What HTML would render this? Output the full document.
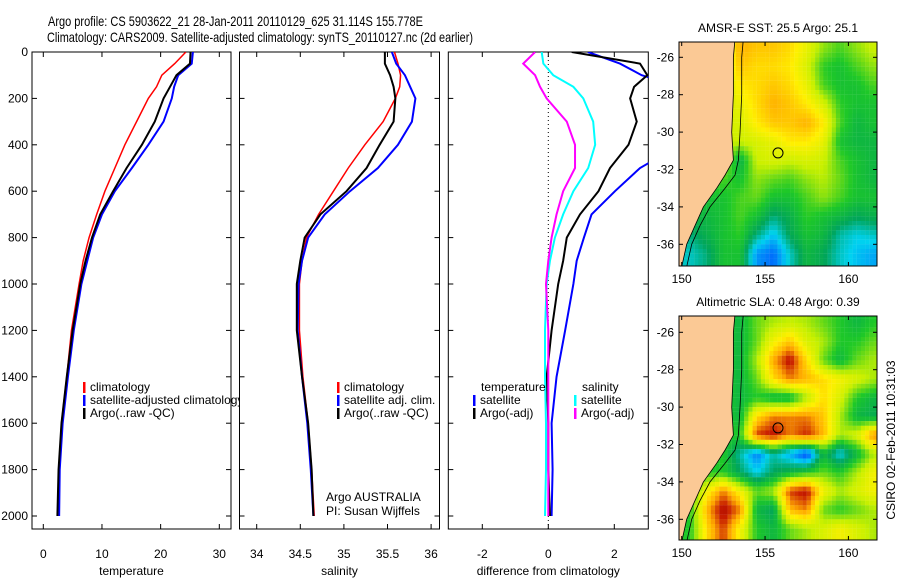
<!DOCTYPE html>
<html><head><meta charset="utf-8"><style>
body{margin:0;background:#fff}
svg{display:block;font-family:"Liberation Sans",sans-serif}
text{font-size:12px;fill:#000}
</style></head><body>
<svg id="c" width="900" height="580" viewBox="0 0 900 580">
<text x="48" y="26" textLength="375" lengthAdjust="spacingAndGlyphs" style="font-size:14px">Argo profile: CS 5903622_21 28-Jan-2011 20110129_625 31.114S 155.778E</text>
<text x="47" y="42" textLength="426" lengthAdjust="spacingAndGlyphs" style="font-size:14px">Climatology: CARS2009. Satellite-adjusted climatology: synTS_20110127.nc (2d earlier)</text>
<g id="g"></g>
</svg>
<script>
// ---- profile data ----
const depths = [0,50,100,150,200,300,400,500,600,700,800,900,1000,1200,1400,1600,1800,2000];
const tempClim = [24.3,22.4,20.2,19.3,17.9,15.9,13.9,12.2,10.5,9.1,7.8,6.8,6.1,4.8,4.0,3.1,2.7,2.6];
const tempSat  = [25.5,25.3,23.0,22.3,21.9,20.5,17.9,15.1,12.2,10.0,8.5,7.5,6.5,5.2,4.2,3.3,2.8,2.7];
const tempArgo = [25.1,25.0,22.7,21.6,20.5,19.0,16.8,14.2,11.9,9.7,8.3,7.2,6.3,5.0,4.0,3.1,2.6,2.4];
const salClim = [35.58,35.62,35.65,35.64,35.59,35.45,35.24,35.05,34.88,34.71,34.57,34.52,34.49,34.49,34.53,34.59,34.63,34.66];
const salSat  = [35.55,35.60,35.70,35.76,35.82,35.78,35.62,35.39,35.07,34.78,34.59,34.52,34.48,34.47,34.52,34.58,34.62,34.65];
const salArgo = [35.47,35.47,35.53,35.57,35.59,35.57,35.41,35.26,35.03,34.73,34.55,34.50,34.46,34.46,34.52,34.59,34.63,34.65];
const diffTempSat  = [1.2,2.17,2.83,4.0,4.0,4.6,4.0,2.78,2.02,1.31,1.08,0.86,0.76,0.51,0.25,0.10,0.13,0.10];
const diffTempArgo = [0.71,2.78,3.0,2.6,2.48,2.68,2.43,1.87,1.52,0.96,0.56,0.45,0.30,0.10,-0.05,0.0,0.0,0.05];
const diffSalSat   = [-0.2,-0.15,0.15,0.76,1.06,1.36,1.42,1.21,0.76,0.45,0.2,0.05,-0.05,-0.1,-0.1,-0.07,-0.07,-0.1];
const diffSalArgo  = [-0.4,-0.76,-0.4,-0.25,-0.05,0.56,0.81,0.81,0.45,0.25,0.10,0.0,-0.07,0.0,0.0,0.0,0.0,0.0];
const depthTicks = [0,200,400,600,800,1000,1200,1400,1600,1800,2000];
const tempTicks = [0,10,20,30];
const salTicks = [34,34.5,35,35.5,36];
const diffTicks = [-2,0,2];
// ---- map data (rows lat -25.5..-36.5, cols lon 150.5..161.5) ----
const mapLons = [150.5,151.5,152.5,153.5,154.5,155.5,156.5,157.5,158.5,159.5,160.5,161.5];
const mapLats = [-25.5,-26.5,-27.5,-28.5,-29.5,-30.5,-31.5,-32.5,-33.5,-34.5,-35.5,-36.5];
const sstGrid = [
[.6,.6,.6,.78,.75,.75,.72,.65,.55,.5,.55,.6],
[.6,.6,.6,.75,.72,.72,.7,.62,.48,.45,.5,.55],
[.6,.6,.6,.7,.72,.75,.72,.65,.5,.45,.45,.5],
[.6,.6,.6,.65,.72,.78,.75,.7,.62,.48,.45,.45],
[.6,.6,.62,.62,.7,.75,.75,.78,.7,.5,.42,.45],
[.6,.6,.6,.6,.62,.65,.7,.7,.65,.45,.42,.42],
[.6,.6,.58,.4,.6,.62,.6,.62,.6,.5,.45,.42],
[.5,.5,.5,.45,.55,.52,.5,.55,.58,.52,.45,.42],
[.45,.45,.45,.5,.52,.45,.45,.5,.55,.5,.45,.45],
[.42,.42,.45,.5,.45,.35,.4,.48,.45,.42,.38,.4],
[.35,.4,.45,.48,.35,.25,.38,.45,.42,.32,.28,.3],
[.3,.35,.45,.45,.2,.15,.3,.42,.38,.3,.25,.22]];
const slaGrid = [
[.5,.5,.5,.45,.55,.6,.62,.6,.55,.5,.45,.5],
[.5,.5,.5,.45,.55,.7,.78,.65,.6,.5,.5,.55],
[.5,.5,.5,.45,.6,.82,.95,.75,.55,.45,.55,.6],
[.5,.5,.5,.45,.55,.75,.85,.8,.75,.7,.65,.6],
[.5,.5,.5,.45,.5,.45,.45,.6,.75,.65,.5,.45],
[.5,.5,.5,.45,.75,.85,.85,.85,.78,.6,.45,.42],
[.5,.5,.5,.5,.9,.95,.85,.92,.8,.6,.65,.85],
[.5,.5,.5,.35,.2,.35,.25,.12,.45,.3,.45,.6],
[.5,.5,.5,.4,.3,.4,.45,.5,.55,.5,.6,.7],
[.5,.7,.85,.7,.55,.6,.9,.95,.7,.6,.65,.7],
[.5,.8,.97,.85,.45,.4,.8,.85,.55,.5,.55,.6],
[.5,.75,.9,.7,.5,.45,.55,.6,.65,.7,.65,.6]];
const coastLon = [153.2,153.1,153.1,153.0,153.1,152.6,152.1,151.3,150.8,150.3,150.0];
const coastLat = [-25.0,-26.0,-28.0,-30.0,-31.5,-32.3,-33.0,-34.0,-35.0,-36.0,-37.2];
const isoLon = [153.7,153.6,153.6,153.5,153.4,153.2,152.6,151.7,151.1,150.6,150.3];
const argoLon = 155.778, argoLat = -31.114;
const lonTicks = [150,155,160];
const latTicks = [-26,-28,-30,-32,-34,-36];

const NS='http://www.w3.org/2000/svg', G=document.getElementById('g');
function el(t,a,p){const e=document.createElementNS(NS,t);for(const k in a)e.setAttribute(k,a[k]);(p||G).appendChild(e);return e;}
const yD = d => 52 + d*0.232;

function panel(x0,x1,xs,ticks,fmt,xlabel,name,showY){
  const g=el('g',{});
  
  
  const cp=el('clipPath',{id:'cp'+name},g); el('rect',{x:x0,y:52,width:x1-x0,height:477},cp);
  const r=el('rect',{x:x0,y:52,width:x1-x0,height:477,fill:'#fff',stroke:'#000','stroke-width':1},g);
  
  
  depthTicks.forEach(d=>{const y=yD(d);
    el('line',{x1:x0,x2:x0+5,y1:y,y2:y,stroke:'#000'},g);el('line',{x1:x1-5,x2:x1,y1:y,y2:y,stroke:'#000'},g);
    if(showY){const t=el('text',{x:28,y:y+4,'text-anchor':'end'},g);t.textContent=d;
      
      }
  });
  ticks.forEach(v=>{const x=xs(v);
    el('line',{x1:x,x2:x,y1:529,y2:524,stroke:'#000'},g);el('line',{x1:x,x2:x,y1:52,y2:57,stroke:'#000'},g);
    const t=el('text',{x:x,y:558,'text-anchor':'middle'},g);t.textContent=fmt(v);
    
    });
  const l=el('text',{x:(x0+x1)/2,y:575,'text-anchor':'middle'},g);l.textContent=xlabel;
  
  
  return el('g',{'clip-path':'url(#cp'+name+')'},g);
}
function line(g,vals,xs,col,w,nm){
  const p=el('polyline',{points:vals.map((v,i)=>xs(v)+','+yD(depths[i])).join(' '),fill:'none',stroke:col,'stroke-width':w},g);
  
  
}
function legend(x,y,col,txt,nm){
  if(col){const r=el('rect',{x:x,y:y-9,width:2.5,height:11,fill:col});}
  const t=el('text',{x:x+7,y:y});t.textContent=txt;
  
  
}
// panel 1
const xT=t=>43.3+t*5.867;
let g1=panel(32,231,xT,tempTicks,v=>v,'temperature','temperature',true);
line(g1,tempClim,xT,'#f00',1.5,'temp-climatology-line');
line(g1,tempSat,xT,'#00f',2,'temp-satellite-line');
line(g1,tempArgo,xT,'#000',2,'temp-argo-line');
legend(83,391,'#f00','climatology','legend-climatology');
legend(83,404,'#00f','satellite-adjusted climatology','legend-satellite');
legend(83,417,'#000','Argo(..raw -QC)','legend-argo');
// panel 2
const xS=s=>256.7+(s-34)*87.2;
let g2=panel(239.5,439.5,xS,salTicks,v=>v,'salinity','salinity',false);
line(g2,salClim,xS,'#f00',1.5,'sal-climatology-line');
line(g2,salSat,xS,'#00f',2,'sal-satellite-line');
line(g2,salArgo,xS,'#000',2,'sal-argo-line');
legend(337,391,'#f00','climatology','legend-sal-climatology');
legend(337,404,'#00f','satellite adj. clim.','legend-sal-satellite');
legend(337,417,'#000','Argo(..raw -QC)','legend-sal-argo');
legend(319,501,null,'Argo AUSTRALIA','credit-argo-australia');
legend(319,515,null,'PI: Susan Wijffels','credit-pi');
// panel 3
const xDf=v=>548.3+v*33;
let g3=panel(448.3,648.3,xDf,diffTicks,v=>v,'difference from climatology','difference',false);
el('line',{x1:548.3,x2:548.3,y1:52,y2:529,stroke:'#000','stroke-dasharray':'1,3'},g3);
line(g3,diffTempSat,xDf,'#00f',2,'diff-temp-satellite-line');
line(g3,diffTempArgo,xDf,'#000',2,'diff-temp-argo-line');
line(g3,diffSalSat,xDf,'#0ff',2,'diff-sal-satellite-line');
line(g3,diffSalArgo,xDf,'#f0f',2,'diff-sal-argo-line');
legend(474,391,null,'temperature','legend-diff-temperature');
legend(473,404,'#00f','satellite','legend-diff-temp-satellite');
legend(473,417,'#000','Argo(-adj)','legend-diff-temp-argo');
legend(575,391,null,'salinity','legend-diff-salinity');
legend(574,404,'#0ff','satellite','legend-diff-sal-satellite');
legend(574,417,'#f0f','Argo(-adj)','legend-diff-sal-argo');

// ---- maps ----
const stops=[[0,[0,0,150]],[0.15,[0,80,255]],[0.3,[0,210,240]],[0.4,[0,165,90]],[0.5,[30,200,40]],[0.62,[200,240,0]],[0.72,[255,240,0]],[0.82,[255,170,0]],[0.92,[200,30,0]],[1,[160,0,0]]];
function cmap(v){v=Math.max(0,Math.min(1,v));for(let i=1;i<stops.length;i++){if(v<=stops[i][0]){const a=stops[i-1],b=stops[i],f=(v-a[0])/(b[0]-a[0]);return 'rgb('+a[1].map((c,k)=>Math.round(c+(b[1][k]-c)*f)).join(',')+')';}}return 'rgb(160,0,0)';}
function bil(grid,lon,lat){
  let fx=(lon-mapLons[0]),fy=(mapLats[0]-lat);
  fx=Math.max(0,Math.min(mapLons.length-1.001,fx));fy=Math.max(0,Math.min(mapLats.length-1.001,fy));
  const i=Math.floor(fy),j=Math.floor(fx),a=fx-j,b=fy-i;
  return grid[i][j]*(1-a)*(1-b)+grid[i][j+1]*a*(1-b)+grid[i+1][j]*(1-a)*b+grid[i+1][j+1]*a*b;
}
function map(top,lat26,grid,title,name,shift){
  const X=lon=>681.7+(lon-150)*16.67, Y=lat=>lat26+(-26-lat)*18.7;
  const g=el('g',{});
  
  
  const cp=el('clipPath',{id:'m'+name},g);el('rect',{x:679,y:top,width:198,height:224},cp);
  const h=el('g',{'clip-path':'url(#m'+name+')'},g);
  for(let lat=-25;lat>-37.5;lat-=0.25)for(let lon=149.75;lon<162;lon+=0.25){
    const v=bil(grid,lon+0.125,lat-0.125)+shift;
    el('rect',{x:X(lon),y:Y(lat),width:4.3,height:4.8,fill:cmap(v)},h);
  }
  let pts=[[149,-24]];coastLon.forEach((l,i)=>pts.push([l,coastLat[i]]));pts.push([150,-38],[149,-38]);
  const land=el('polygon',{points:pts.map(p=>X(p[0])+','+Y(p[1])).join(' '),fill:'#fbc995',stroke:'#000','stroke-width':0.8},h);
  
  
  el('polyline',{points:isoLon.map((l,i)=>X(l)+','+Y(coastLat[i])).join(' '),fill:'none',stroke:'#000','stroke-width':0.8},h);
  const c=el('circle',{cx:X(argoLon),cy:Y(argoLat),r:5,fill:'none',stroke:'#000'},g);
  
  
  el('rect',{x:679,y:top,width:198,height:224,fill:'none',stroke:'#000'},g);
  latTicks.forEach(l=>{const y=Y(l);el('line',{x1:679,x2:683,y1:y,y2:y,stroke:'#000'},g);el('line',{x1:873,x2:877,y1:y,y2:y,stroke:'#000'},g);
    const t=el('text',{x:674,y:y+4,'text-anchor':'end'},g);t.textContent=l;
    
    });
  lonTicks.forEach(l=>{const x=X(l);el('line',{x1:x,x2:x,y1:top+224,y2:top+220,stroke:'#000'},g);el('line',{x1:x,x2:x,y1:top,y2:top+4,stroke:'#000'},g);
    const t=el('text',{x:x,y:top+241,'text-anchor':'middle'},g);t.textContent=l;
    
    });
  const t=el('text',{x:778,y:top-10,'text-anchor':'middle'},g);t.textContent=title;
  
  
}
map(42,57.3,sstGrid,'AMSR-E SST: 25.5 Argo: 25.1','sst',0.03);
map(316,332.3,slaGrid,'Altimetric SLA: 0.48 Argo: 0.39','sla',0);
const cs=el('text',{x:0,y:0,transform:'translate(895,440) rotate(-90)','text-anchor':'middle'});
cs.textContent='CSIRO 02-Feb-2011 10:31:03';


</script>
</body></html>
